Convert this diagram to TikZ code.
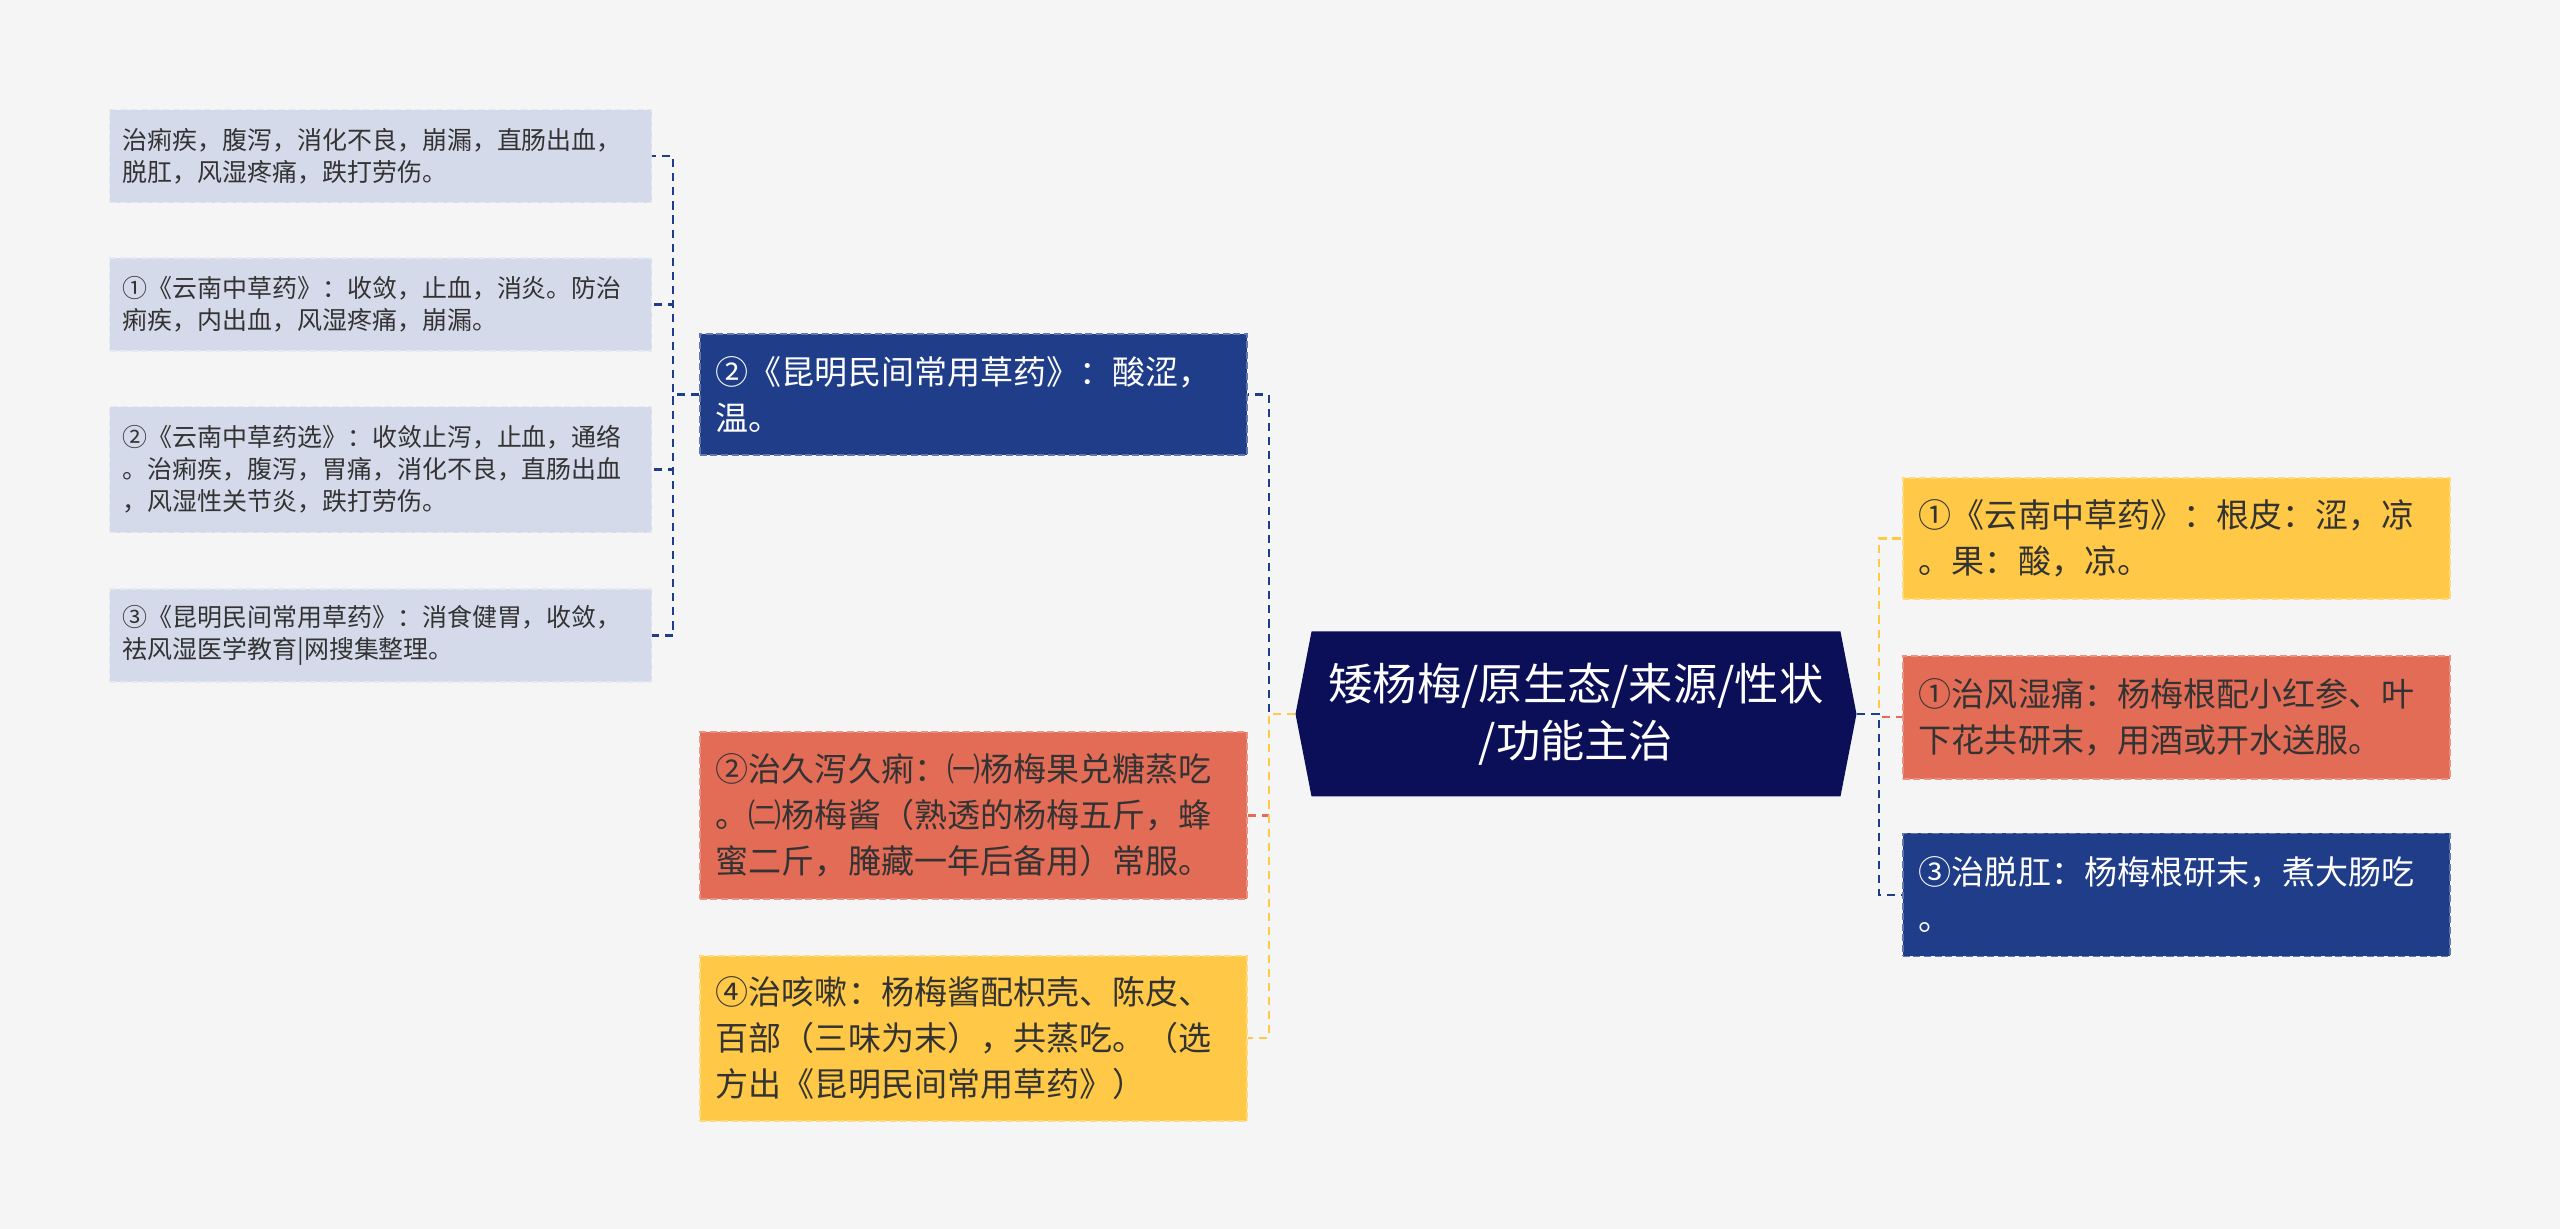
\documentclass[tikz,border=0pt]{standalone}
\usepackage{fontspec}
\setmainfont{Noto Sans CJK SC}
\usepackage{tikz}
\usetikzlibrary{shapes.symbols, positioning}

\definecolor{bgcol}{HTML}{F5F5F5}
\definecolor{rootnavy}{HTML}{0B0F57}
\definecolor{navyblue}{HTML}{203D89}
\definecolor{coralred}{HTML}{E36C57}
\definecolor{sunyellow}{HTML}{FFC846}
\definecolor{paleblue}{HTML}{D5DAEA}
\definecolor{darktext}{HTML}{333333}

\begin{document}
\begin{tikzpicture}[
    x=0.1mm, y=-0.1mm,
    rootbox/.style={signal, signal to=west and east, signal pointer angle=158, fill=rootnavy, text=white, minimum width=56.1mm, minimum height=16.5mm, align=center, inner sep=0pt, font=\fontsize{12.6pt}{16.2pt}\selectfont},
    mainbox/.style={rectangle, line width=0.5pt, dash pattern=on 2pt off 1pt, text width=51.5mm, inner xsep=1.6mm, inner ysep=0pt, align=left, anchor=north west, font=\fontsize{9.4pt}{13.1pt}\selectfont},
    bluebox/.style={mainbox, fill=navyblue, draw=navyblue!70!white, text=white},
    redbox/.style={mainbox, fill=coralred, draw=coralred!75!white, text=darktext},
    yellowbox/.style={mainbox, fill=sunyellow, draw=sunyellow!70!white, text=darktext},
    subbox/.style={rectangle, draw=paleblue!60!white, dash pattern=on 2pt off 1pt, fill=paleblue, text=darktext, text width=51.6mm, inner xsep=1.3mm, inner ysep=0pt, minimum height=9.3mm, align=left, font=\fontsize{7.1pt}{9.1pt}\selectfont},
    link/.style={line width=0.7pt, dash pattern=on 2.3pt off 1.7pt}
]
% Background and page size
\fill[bgcol] (0,0) rectangle (2560,1229);
\useasboundingbox (0,0) rectangle (2560,1229);

% Central topic
\node[rootbox] (root) at (1576,714) {矮杨梅/原生态/来源/性状\\/功能主治};

% Left branch
\node[bluebox, minimum height=12.1mm] (kmtaste) at (699,333) {②《昆明民间常用草药》：酸涩，\\温。};
\node[redbox, minimum height=16.7mm] (diarrhea) at (699,731) {②治久泻久痢：㈠杨梅果兑糖蒸吃\\。㈡杨梅酱（熟透的杨梅五斤，蜂\\蜜二斤，腌藏一年后备用）常服。};
\node[yellowbox, minimum height=16.5mm, below=5.5mm of diarrhea] (cough) {④治咳嗽：杨梅酱配枳壳、陈皮、\\百部（三味为末），共蒸吃。（选\\方出《昆明民间常用草药》）};

% Sub-items of the left blue node
\node[subbox, anchor=north west] (useA) at (109,109) {治痢疾，腹泻，消化不良，崩漏，直肠出血，\\脱肛，风湿疼痛，跌打劳伤。};
\node[subbox, below=5.4mm of useA] (useB) {①《云南中草药》：收敛，止血，消炎。防治\\痢疾，内出血，风湿疼痛，崩漏。};
\node[subbox, minimum height=12.6mm, below=5.4mm of useB] (useC) {②《云南中草药选》：收敛止泻，止血，通络\\。治痢疾，腹泻，胃痛，消化不良，直肠出血\\，风湿性关节炎，跌打劳伤。};
\node[subbox, below=5.5mm of useC] (useD) {③《昆明民间常用草药》：消食健胃，收敛，\\祛风湿医学教育|网搜集整理。};

% Right branch
\node[yellowbox, minimum height=12.1mm] (yntaste) at (1902,477) {①《云南中草药》：根皮：涩，凉\\。果：酸，凉。};
\node[redbox, minimum height=12.3mm, below=5.5mm of yntaste] (rheuma) {①治风湿痛：杨梅根配小红参、叶\\下花共研末，用酒或开水送服。};
\node[bluebox, minimum height=12.3mm, below=5.3mm of rheuma] (prolapse) {③治脱肛：杨梅根研末，煮大肠吃\\。};

% Connectors
\draw[link, navyblue] (root.west) -- ++(-26,0) |- (kmtaste.east);
\draw[link, coralred] (root.west) -- ++(-26,0) |- (diarrhea.east);
\draw[link, sunyellow] (root.west) -- ++(-26,0) |- (cough.east);

\foreach \leaf in {useA, useB, useC, useD}
    \draw[link, navyblue] (kmtaste.west) -- ++(-26,0) |- (\leaf.east);

\draw[link, sunyellow] (root.east) -- ++(22,0) |- (yntaste.west);
\draw[link, coralred] (root.east) -- ++(22,0) |- (rheuma.west);
\draw[link, navyblue] (root.east) -- ++(22,0) |- (prolapse.west);
\end{tikzpicture}
\end{document}
